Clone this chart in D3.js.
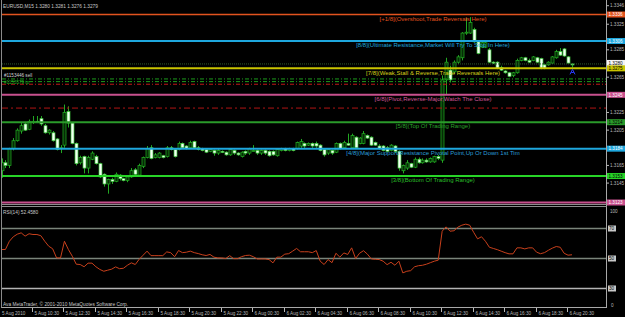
<!DOCTYPE html>
<html><head><meta charset="utf-8">
<script src="https://cdn.jsdelivr.net/npm/d3@7"></script>
<style>html,body{margin:0;padding:0;background:#000;overflow:hidden}</style>
</head><body><svg id="c" width="625" height="317"></svg>
<script>
// ---------------- DATA ----------------
const chartTitle = "EURUSD,M15 1.3280 1.3281 1.3276 1.3279";
const firstBar = "2010-08-05T08:30Z";
const barMinutes = 15;
// open, high, low, close (M15 bars)
const ohlc = [
[1.3159,1.3173,1.3151,1.3168],[1.3168,1.3171,1.3162,1.3165],[1.3165,1.3185,1.3162,1.3184],[1.3184,1.3196,1.3182,1.3193],
[1.3193,1.3207,1.3192,1.3205],[1.3204,1.3213,1.3201,1.3210],[1.3212,1.3214,1.3204,1.3205],[1.3206,1.3217,1.3205,1.3215],
[1.3214,1.3221,1.3212,1.3215],[1.3215,1.3221,1.3213,1.3214],[1.3218,1.3221,1.3210,1.3212],[1.3210,1.3212,1.3201,1.3202],
[1.3202,1.3206,1.3200,1.3205],[1.3202,1.3204,1.3192,1.3193],[1.3195,1.3196,1.3182,1.3183],[1.3184,1.3188,1.3179,1.3185],
[1.3188,1.3234,1.3185,1.3225],[1.3226,1.3232,1.3208,1.3213],[1.3213,1.3214,1.3189,1.3190],[1.3190,1.3191,1.3165,1.3167],
[1.3168,1.3176,1.3166,1.3174],[1.3175,1.3176,1.3156,1.3162],[1.3162,1.3176,1.3156,1.3174],[1.3172,1.3181,1.3171,1.3179],
[1.3175,1.3177,1.3166,1.3167],[1.3167,1.3168,1.3151,1.3152],[1.3155,1.3156,1.3141,1.3144],[1.3144,1.3150,1.3133,1.3149],
[1.3149,1.3151,1.3144,1.3147],[1.3147,1.3157,1.3146,1.3155],[1.3154,1.3155,1.3148,1.3150],[1.3150,1.3151,1.3147,1.3148],
[1.3148,1.3154,1.3146,1.3152],[1.3152,1.3162,1.3151,1.3159],[1.3160,1.3162,1.3152,1.3155],[1.3154,1.3167,1.3152,1.3165],
[1.3164,1.3175,1.3162,1.3174],[1.3174,1.3187,1.3173,1.3184],[1.3185,1.3188,1.3172,1.3173],[1.3174,1.3179,1.3173,1.3177],
[1.3174,1.3180,1.3173,1.3179],[1.3176,1.3177,1.3173,1.3174],[1.3175,1.3187,1.3174,1.3185],[1.3185,1.3187,1.3182,1.3183],
[1.3183,1.3184,1.3174,1.3175],[1.3183,1.3192,1.3182,1.3190],[1.3190,1.3191,1.3184,1.3185],[1.3187,1.3188,1.3183,1.3184],
[1.3185,1.3193,1.3184,1.3191],[1.3192,1.3193,1.3184,1.3185],[1.3185,1.3187,1.3182,1.3183],[1.3184,1.3185,1.3181,1.3182],
[1.3183,1.3184,1.3179,1.3180],[1.3181,1.3184,1.3180,1.3183],[1.3182,1.3183,1.3176,1.3179],[1.3179,1.3184,1.3177,1.3182],
[1.3181,1.3182,1.3179,1.3180],[1.3180,1.3181,1.3176,1.3177],[1.3177,1.3184,1.3176,1.3183],[1.3182,1.3183,1.3177,1.3179],
[1.3179,1.3180,1.3176,1.3177],[1.3175,1.3181,1.3174,1.3180],[1.3181,1.3182,1.3177,1.3179],[1.3179,1.3185,1.3177,1.3184],
[1.3182,1.3188,1.3181,1.3182],[1.3182,1.3183,1.3177,1.3179],[1.3179,1.3183,1.3177,1.3182],[1.3182,1.3183,1.3177,1.3179],
[1.3181,1.3182,1.3175,1.3176],[1.3181,1.3182,1.3176,1.3177],[1.3176,1.3184,1.3175,1.3183],[1.3182,1.3185,1.3181,1.3184],
[1.3184,1.3185,1.3181,1.3182],[1.3182,1.3185,1.3181,1.3184],[1.3184,1.3185,1.3181,1.3182],[1.3184,1.3192,1.3183,1.3191],
[1.3187,1.3195,1.3185,1.3192],[1.3190,1.3191,1.3185,1.3187],[1.3188,1.3191,1.3187,1.3190],[1.3190,1.3191,1.3185,1.3187],
[1.3190,1.3192,1.3185,1.3187],[1.3188,1.3189,1.3181,1.3182],[1.3183,1.3184,1.3175,1.3177],[1.3179,1.3184,1.3177,1.3183],
[1.3182,1.3183,1.3177,1.3179],[1.3180,1.3191,1.3179,1.3190],[1.3190,1.3191,1.3183,1.3184],[1.3185,1.3193,1.3184,1.3191],
[1.3190,1.3201,1.3187,1.3188],[1.3185,1.3201,1.3184,1.3199],[1.3197,1.3198,1.3184,1.3185],[1.3190,1.3197,1.3189,1.3196],
[1.3190,1.3204,1.3189,1.3201],[1.3199,1.3200,1.3195,1.3196],[1.3197,1.3198,1.3187,1.3188],[1.3191,1.3192,1.3187,1.3188],
[1.3187,1.3189,1.3183,1.3184],[1.3187,1.3188,1.3181,1.3182],[1.3185,1.3187,1.3180,1.3181],[1.3182,1.3189,1.3181,1.3188],
[1.3187,1.3188,1.3179,1.3181],[1.3181,1.3182,1.3159,1.3162],[1.3159,1.3166,1.3156,1.3165],[1.3162,1.3171,1.3160,1.3168],
[1.3167,1.3168,1.3162,1.3163],[1.3163,1.3174,1.3162,1.3172],[1.3172,1.3174,1.3167,1.3168],[1.3168,1.3173,1.3167,1.3171],
[1.3171,1.3173,1.3168,1.3169],[1.3169,1.3174,1.3168,1.3173],[1.3169,1.3176,1.3168,1.3175],[1.3175,1.3177,1.3171,1.3173],
[1.3171,1.3267,1.3168,1.3262],[1.3262,1.3287,1.3245,1.3282],[1.3273,1.3278,1.3259,1.3262],[1.3271,1.3284,1.3269,1.3282],
[1.3282,1.3290,1.3280,1.3288],[1.3287,1.3316,1.3284,1.3315],[1.3315,1.3332,1.3313,1.3316],[1.3315,1.3333,1.3314,1.3327],
[1.3319,1.3321,1.3304,1.3305],[1.3305,1.3306,1.3291,1.3292],[1.3299,1.3305,1.3298,1.3304],[1.3299,1.3307,1.3298,1.3304],
[1.3296,1.3298,1.3281,1.3282],[1.3282,1.3283,1.3280,1.3281],[1.3282,1.3283,1.3274,1.3275],[1.3276,1.3278,1.3272,1.3273],
[1.3272,1.3273,1.3269,1.3270],[1.3270,1.3271,1.3265,1.3266],[1.3267,1.3271,1.3265,1.3270],[1.3270,1.3286,1.3269,1.3284],
[1.3284,1.3288,1.3283,1.3287],[1.3287,1.3288,1.3283,1.3284],[1.3284,1.3286,1.3281,1.3282],[1.3284,1.3289,1.3283,1.3288],
[1.3287,1.3288,1.3281,1.3282],[1.3286,1.3287,1.3274,1.3275],[1.3279,1.3280,1.3274,1.3275],[1.3279,1.3283,1.3278,1.3282],
[1.3281,1.3289,1.3280,1.3288],[1.3287,1.3296,1.3286,1.3294],[1.3294,1.3298,1.3289,1.3290],[1.3297,1.3298,1.3288,1.3289],
[1.3288,1.3289,1.3280,1.3281],[1.3280,1.3281,1.3276,1.3279]
];
const rsiValues = [
56.0,56.0,61.5,64.5,66.2,67.1,64.9,66.5,66.0,66.0,65.2,61.5,58.2,56.5,50.4,50.4,61.5,56.0,51.5,46.2,
46.0,44.5,46.9,46.9,44.5,42.7,41.5,42.2,42.9,44.4,43.2,43.5,45.5,47.1,46.0,49.5,52.2,54.9,51.9,51.9,
51.9,51.9,54.4,53.9,51.2,55.3,53.9,54.2,54.9,53.9,53.3,52.5,52.0,52.7,50.9,50.4,50.4,50.0,51.9,49.9,
49.9,51.2,52.0,52.2,51.2,49.7,49.7,49.7,49.3,47.1,50.9,50.9,52.9,53.2,54.9,56.7,54.5,54.5,54.5,53.9,
55.3,48.2,46.0,49.3,47.2,53.5,50.9,53.7,52.7,57.1,50.0,53.5,55.2,52.9,49.7,49.5,49.3,48.2,45.9,47.5,
45.5,48.2,40.4,41.5,41.9,44.5,45.2,45.5,46.2,47.2,48.2,48.9,68.2,71.1,68.2,68.5,70.9,72.2,72.9,72.2,
67.5,63.1,64.5,61.5,57.5,56.7,55.9,54.9,53.9,53.1,53.1,57.1,57.1,56.4,57.1,57.1,54.2,53.2,53.9,55.5,
56.9,58.0,57.5,53.5,52.2,52.5
];
const rsiTitle = "RSI(14) 52.4580";
const rsiLevels = [70, 50, 30];
const rsiRangeLabels = ["100", "0"];
const murreyPrices = [1.3336, 1.3306, 1.3275, 1.3245, 1.3214, 1.3184, 1.3153, 1.3123];
const murreyTexts = [
 "[+1/8](Overshoot,Trade Reversals Here)",
 "[8/8](Ultimate Resistance,Market Will Try To Stop In Here)",
 "[7/8](Weak,Stall & Reverse,Trade Reversals Here)",
 "[6/8](Pivot,Reverse-Major,Watch The Close)",
 "[5/8](Top Of Trading Range)",
 "[4/8](Major Support/Resistance Pivotal Point,Up Or Down 1st Tim",
 "[3/8](Bottom Of Trading Range)",
 "[2/8](Weak,Stall & Reverse,Trade Reversals Here)"
];
const bidPrice = 1.3280;
const orderPrices = [1.3263, 1.3260, 1.3257];
const orderTexts = ["#1153446 sell", "#1153579 tp"];
const pivotLinePrice = 1.3230;
const arrowPrice = 1.3271;
const priceTicks = [1.3346, 1.3325, 1.3296, 1.3265, 1.3225, 1.3205, 1.3165, 1.3145];
const priceTickLabels = ["1.3346", "1.3325", "1.3285", "1.3265", "1.3225", "1.3205", "1.3165", "1.3145"];
const timeTicks = ["2010-08-05T10:30Z","2010-08-05T12:30Z","2010-08-05T14:30Z","2010-08-05T16:30Z","2010-08-05T18:30Z",
 "2010-08-05T20:30Z","2010-08-05T22:30Z","2010-08-06T00:30Z","2010-08-06T02:30Z","2010-08-06T04:30Z","2010-08-06T06:30Z",
 "2010-08-06T08:30Z","2010-08-06T10:30Z","2010-08-06T12:30Z","2010-08-06T14:30Z","2010-08-06T16:30Z","2010-08-06T18:30Z","2010-08-06T20:30Z"];
const firstDateLabel = "5 Aug 2010";
const copyright = "Ava MetaTrader, \u00A9 2001-2010 MetaQuotes Software Corp.";

// ---------------- STYLE ----------------
const murreyColors = ["#e2531f","#1ea7de","#c9c400","#c8508e","#2a9a2a","#1ea7de","#27d427","#c8508e"];
const murreyTextColors = ["#e2531f","#1ea7de","#d8d21a","#d0589a","#2aa02a","#2a9fd8","#2abf2a","#c8508e"];
const murreyBoxText = ["#fff","#fff","#000","#fff","#000","#fff","#000","#fff"];
const axisGray = "#b8b8b8";
const FONT = "'Liberation Sans', Arial, sans-serif";

// ---------------- DRAW ----------------
const svg = d3.select("#c");
svg.append("rect").attr("width",625).attr("height",317).attr("fill","#000");

const t0 = new Date(firstBar).getTime();
const bars = ohlc.map((d,i)=>({t:new Date(t0+i*barMinutes*60000), o:d[0], h:d[1], l:d[2], c:d[3], rsi:rsiValues[i]}));

const x = d3.scaleUtc().domain([bars[0].t, bars[bars.length-1].t]).range([1.5, 572]);
const y = d3.scaleLinear().domain([1.3123, 1.3306]).range([202.5, 41]);
const yr = d3.scaleLinear().domain([30, 70]).range([288.5, 228.5]);

const defs = svg.append("defs");
defs.append("clipPath").attr("id","mainClip").append("rect").attr("x",2).attr("y",2).attr("width",604).attr("height",202);
defs.append("clipPath").attr("id","rsiClip").append("rect").attr("x",2).attr("y",208).attr("width",604).attr("height",99);

const main = svg.append("g").attr("clip-path","url(#mainClip)");

// candles
const cx = d => Math.round(x(d.t)) + 0.5;
const cg = main.append("g");
cg.selectAll("line.wick").data(bars).join("line")
  .attr("x1",cx).attr("x2",cx)
  .attr("y1",d=>y(d.h)).attr("y2",d=>y(d.l))
  .attr("stroke","#22a822").attr("stroke-width",1);
cg.selectAll("rect.body").data(bars).join("rect")
  .attr("x",d=>cx(d)-1.5).attr("width",3)
  .attr("y",d=>y(Math.max(d.o,d.c)))
  .attr("height",d=>Math.max(1, Math.abs(y(d.o)-y(d.c))))
  .attr("fill",d=>d.c>=d.o ? "#062a06" : "#f2fff2")
  .attr("stroke",d=>d.c>=d.o ? "#22b022" : "#3ac83a")
  .attr("stroke-width",0.7);

// top line
main.append("line").attr("x1",2).attr("x2",606).attr("y1",1.5).attr("y2",1.5)
  .attr("stroke","#c07070").attr("stroke-width",1).attr("stroke-dasharray","2,1");

// bid line
main.append("line").attr("x1",2).attr("x2",606).attr("y1",y(bidPrice)).attr("y2",y(bidPrice))
  .attr("stroke","#2e5a2e").attr("stroke-width",1).attr("stroke-dasharray","1,1");

// order lines
const orderColors = ["#1c9a1c","#1c9a1c","#c01818"];
orderPrices.forEach((p,i)=>{
  main.append("line").attr("x1",2).attr("x2",606).attr("y1",y(p)).attr("y2",y(p))
    .attr("stroke",orderColors[i]).attr("stroke-width",1).attr("stroke-dasharray","4,2,1,2");
});
main.append("line").attr("x1",2).attr("x2",606).attr("y1",y(pivotLinePrice)).attr("y2",y(pivotLinePrice))
  .attr("stroke","#b01414").attr("stroke-width",1).attr("stroke-dasharray","6,3,2,3");

// murrey lines
murreyPrices.forEach((p,i)=>{
  main.append("line").attr("x1",2).attr("x2",606).attr("y1",y(p)).attr("y2",y(p))
    .attr("stroke",murreyColors[i]).attr("stroke-width", i===0?1.5:2);
});
murreyPrices.forEach((p,i)=>{
  main.append("text").attr("x",433).attr("y",y(p)+6.3).attr("text-anchor","middle")
    .attr("font-family",FONT).attr("font-size",6).attr("fill",murreyTextColors[i])
    .text(murreyTexts[i]);
});

// order texts
main.append("text").attr("x",4).attr("y",y(orderPrices[0])-1.5).attr("font-family",FONT).attr("font-size",4.6)
  .attr("fill","#d0d0d0").text(orderTexts[0]);
main.append("text").attr("x",4).attr("y",y(orderPrices[2])).attr("font-family",FONT).attr("font-size",4.6)
  .attr("fill","#22aa22").text(orderTexts[1]);

// arrow
const last = bars[bars.length-1];
const ax = cx(last), ay = y(arrowPrice);
main.append("path").attr("d",`M${ax-2.5},${ay+2.5} L${ax},${ay-2.5} L${ax+2.5},${ay+2.5} M${ax-1.3},${ay+0.6} L${ax+1.3},${ay+0.6}`)
  .attr("fill","none").attr("stroke","#2a3cff").attr("stroke-width",1);

// title
svg.append("text").attr("x",3).attr("y",7.5).attr("font-family",FONT).attr("font-size",4.8)
  .attr("fill","#c8c8c8").text(chartTitle);

// pane frames
svg.append("line").attr("x1",1.5).attr("x2",1.5).attr("y1",0).attr("y2",308).attr("stroke","#8a8a8a");
svg.append("line").attr("x1",606.5).attr("x2",606.5).attr("y1",0).attr("y2",308).attr("stroke","#a8a8a8");
[204.5, 206.5].forEach(v=> svg.append("line").attr("x1",1.5).attr("x2",606.5).attr("y1",v).attr("y2",v).attr("stroke","#8c8c8c"));
svg.append("line").attr("x1",1.5).attr("x2",606.5).attr("y1",307.5).attr("y2",307.5).attr("stroke","#a8a8a8");

// price axis ticks
priceTicks.forEach((p,i)=>{
  const yy = y(p);
  svg.append("line").attr("x1",606.5).attr("x2",609).attr("y1",yy).attr("y2",yy).attr("stroke",axisGray);
  svg.append("text").attr("x",610).attr("y",yy+1.6).attr("font-family",FONT).attr("font-size",4.6)
    .attr("fill",axisGray).text(priceTickLabels[i]);
});
// colored price boxes
function priceBox(yy, txt, fill, tc){
  svg.append("rect").attr("x",607).attr("y",yy-3).attr("width",18).attr("height",6).attr("fill",fill);
  svg.append("text").attr("x",608.5).attr("y",yy+1.7).attr("font-family",FONT).attr("font-size",4.6)
    .attr("fill",tc).text(txt);
}
priceBox(y(bidPrice)-1, d3.format(".4f")(bidPrice), "#f4f4f4", "#000");
murreyPrices.forEach((p,i)=> priceBox(y(p), d3.format(".4f")(p), murreyColors[i], murreyBoxText[i]));

// RSI pane
const rsiG = svg.append("g");
rsiLevels.forEach((lv,i)=>{
  rsiG.append("line").attr("x1",2).attr("x2",606).attr("y1",yr(lv)).attr("y2",yr(lv))
    .attr("stroke", i<2 ? "#7a847a" : "#b4b4b4").attr("stroke-width",1.5);
  svg.append("rect").attr("x",608).attr("y",yr(lv)-3).attr("width",8).attr("height",6).attr("fill","#c8c8c8");
  svg.append("text").attr("x",609).attr("y",yr(lv)+1.7).attr("font-family",FONT).attr("font-size",4.6)
    .attr("fill","#000").text(lv);
});
svg.append("text").attr("x",610).attr("y",212.5).attr("font-family",FONT).attr("font-size",4.6).attr("fill",axisGray).text(rsiRangeLabels[0]);
svg.append("text").attr("x",611).attr("y",306.5).attr("font-family",FONT).attr("font-size",4.6).attr("fill",axisGray).text(rsiRangeLabels[1]);

const rsiLine = d3.line().x(d=>x(d.t)).y(d=>yr(d.rsi));
svg.append("g").attr("clip-path","url(#rsiClip)").append("path").datum(bars).attr("d",rsiLine)
  .attr("fill","none").attr("stroke","#c8401c").attr("stroke-width",1);
svg.append("text").attr("x",3).attr("y",213.5).attr("font-family",FONT).attr("font-size",4.8).attr("fill","#c8c8c8").text(rsiTitle);
svg.append("text").attr("x",3).attr("y",305.5).attr("font-family",FONT).attr("font-size",4.8).attr("fill","#c8c8c8").text(copyright);

// time axis
const fmt = d3.utcFormat("%-d %b %H:%M");
svg.append("text").attr("x",2).attr("y",315).attr("font-family",FONT).attr("font-size",4.6).attr("fill",axisGray).text(firstDateLabel);
timeTicks.forEach(s=>{
  const t = new Date(s), xx = Math.round(x(t)) - 0.5;
  svg.append("line").attr("x1",xx).attr("x2",xx).attr("y1",308).attr("y2",312).attr("stroke",axisGray);
  svg.append("text").attr("x",xx+2).attr("y",315).attr("font-family",FONT).attr("font-size",4.6).attr("fill",axisGray).text(fmt(t));
});
</script></body></html>
